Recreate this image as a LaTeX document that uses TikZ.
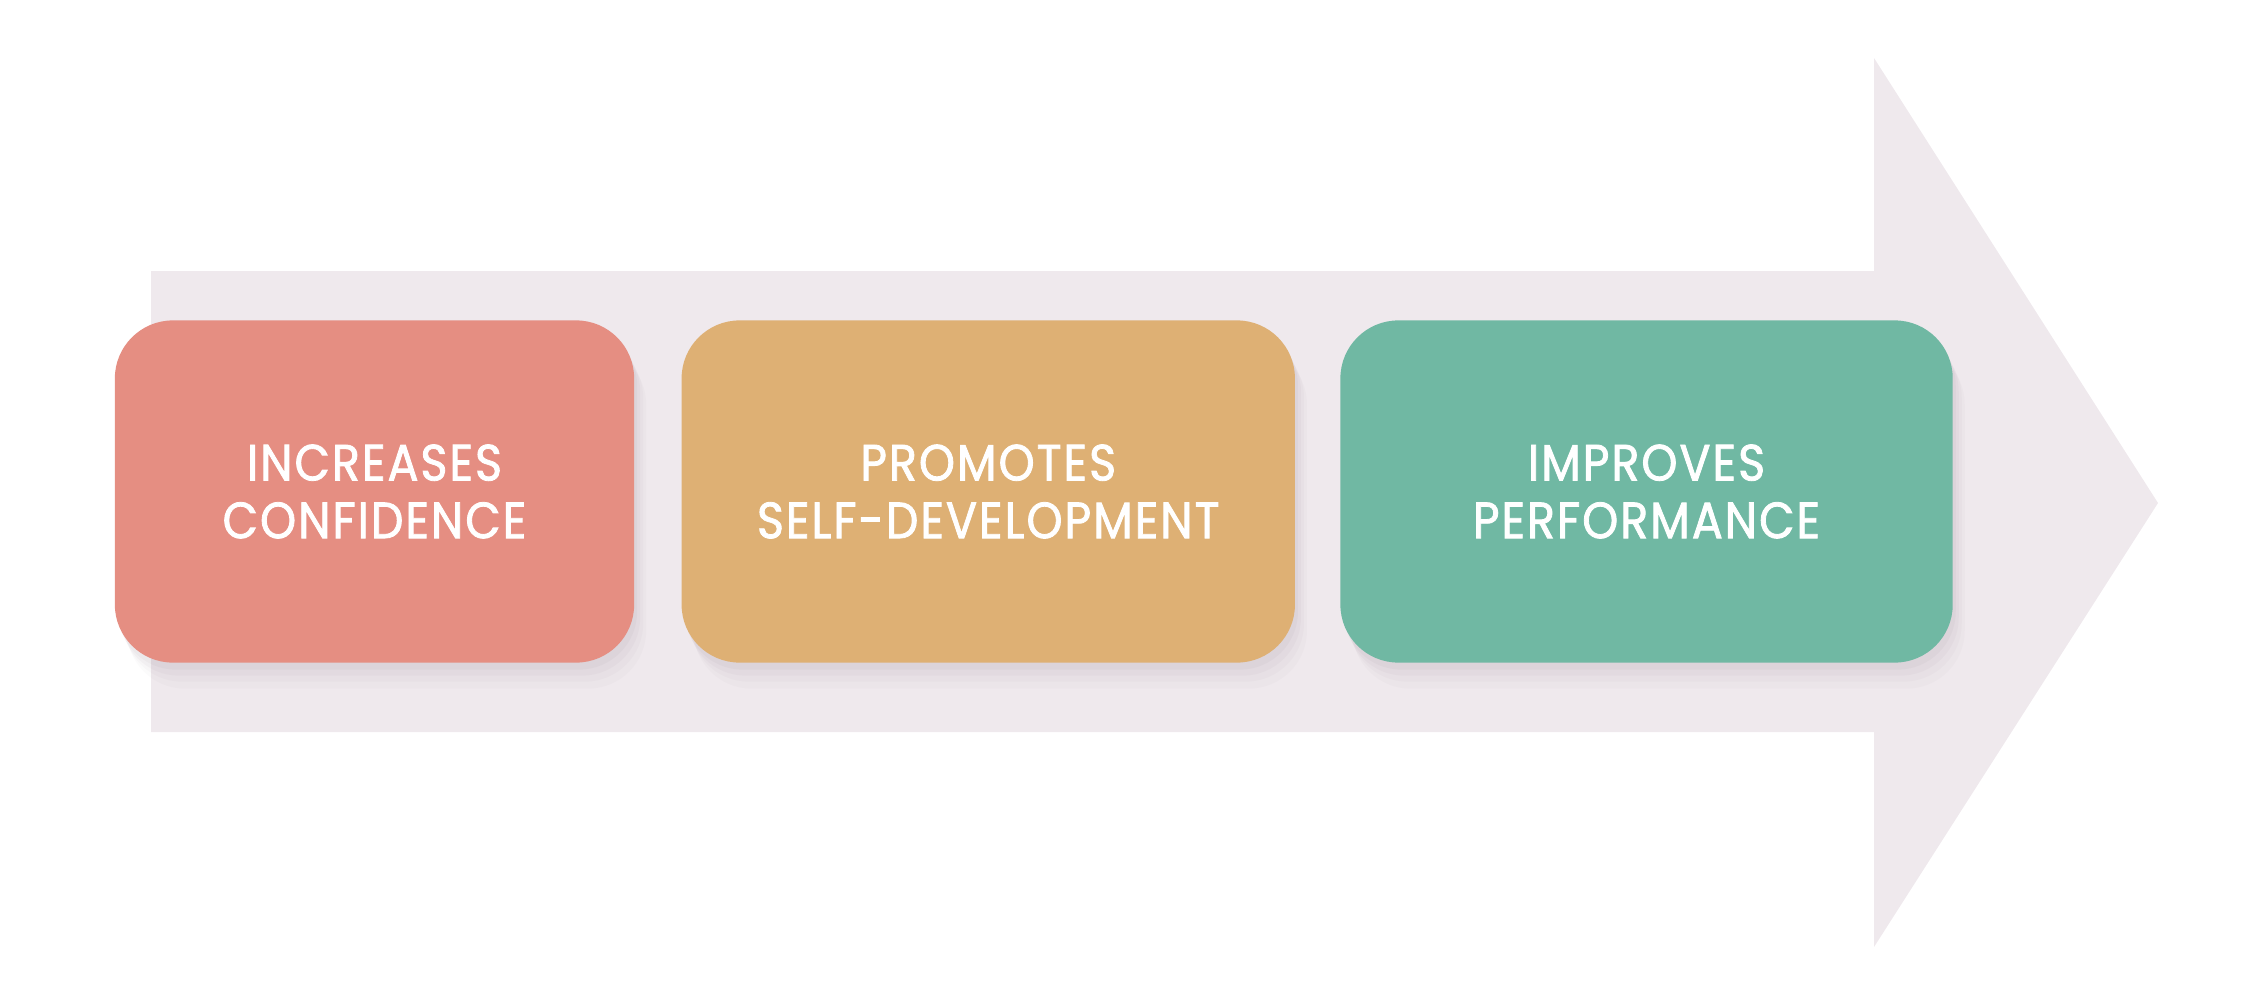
\documentclass[tikz,border=0pt]{standalone}
\usepackage{fontspec}
\usetikzlibrary{positioning}
\newfontfamily\stepfont{Poppins}[LetterSpace=4,FakeStretch=0.9,FakeBold=1.6]
\definecolor{arrowgray}{HTML}{EFE9ED}
\definecolor{salmon}{HTML}{E58E82}
\definecolor{sand}{HTML}{DEB074}
\definecolor{sage}{HTML}{70B8A3}
\definecolor{shade}{HTML}{8C7A88}

\tikzset{
  stepbox/.style={rounded corners=0.58cm, minimum height=3.42cm, inner sep=0pt,
    align=center, text=white, font=\stepfont\fontsize{14.5}{16.4}\selectfont,
    preaction={fill=shade, fill opacity=0.03, transform canvas={shift={(1.2mm,-2.6mm)}}},
    preaction={fill=shade, fill opacity=0.04, transform canvas={shift={(0.9mm,-1.9mm)}}},
    preaction={fill=shade, fill opacity=0.05, transform canvas={shift={(0.6mm,-1.3mm)}}},
    preaction={fill=shade, fill opacity=0.06, transform canvas={shift={(0.3mm,-0.7mm)}}}}
}

\begin{document}
\begin{tikzpicture}[x=0.01cm, y=-0.01cm]
  \useasboundingbox (0,0) rectangle (2260,1006);
  % big arrow behind the steps
  \fill[arrowgray] (151,271) -- (1874,271) -- (1874,58) -- (2158,503)
    -- (1874,947) -- (1874,732) -- (151,732) -- cycle;
  \node[stepbox, fill=salmon, minimum width=5.19cm] (inc) at (374.5,491.5) {INCREASES\\CONFIDENCE};
  \node[stepbox, fill=sand, minimum width=6.13cm, right=0.46cm of inc] (prom) {PROMOTES\\SELF-DEVELOPMENT};
  \node[stepbox, fill=sage, minimum width=6.12cm, right=0.44cm of prom] (impr) {IMPROVES\\PERFORMANCE};
\end{tikzpicture}
\end{document}
